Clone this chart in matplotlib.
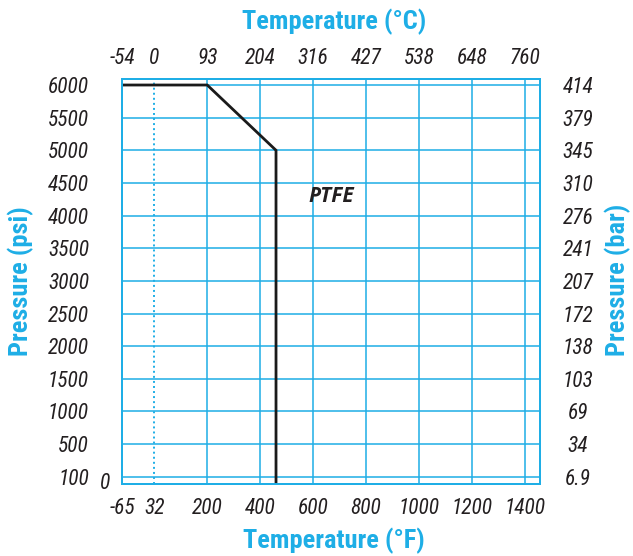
import numpy as np
import matplotlib
matplotlib.use("Agg")
import matplotlib.pyplot as plt
import matplotlib.transforms as mtransforms
from matplotlib import font_manager

# data
temp_f_ticks = [-65, 32, 200, 400, 600, 800, 1000, 1200, 1400]
temp_c_labels = ["-54", "0", "93", "204", "316", "427", "538", "648", "760"]
psi_ticks = [100, 500, 1000, 1500, 2000, 2500, 3000, 3500, 4000, 4500, 5000, 5500, 6000]
bar_labels = ["6.9", "34", "69", "103", "138", "172", "207", "241", "276", "310", "345", "379", "414"]

ptfe_temp_f = [-65, 200, 460, 460]
ptfe_psi = [6000, 6000, 5000, 0]

BLUE = "#1EAEE6"
TXT = "#231F20"

# pick a condensed face if one is installed
names = {f.name for f in font_manager.fontManager.ttflist}
NARROW = [n for n in ["Liberation Sans Narrow", "Roboto Condensed", "Roboto"] if n in names][:1]
NARROW = NARROW + ["DejaVu Sans"]

# the chart's axes are not linear: piecewise mapping
xf_pts = [-1000, -65, 32, 200, 3000]
xp_pts = [-6.426, -0.605, 0, 1, 15]
yf_pts = [-1000, 0, 100, 500, 10000]
yp_pts = [-2.354, -0.214, 0, 1, 20]

def fx(v):
    return np.interp(v, xf_pts, xp_pts)

def ifx(v):
    return np.interp(v, xp_pts, xf_pts)

def fy(v):
    return np.interp(v, yf_pts, yp_pts)

def ify(v):
    return np.interp(v, yp_pts, yf_pts)

fig = plt.figure(figsize=(6.33, 5.56), dpi=100)
ax = fig.add_axes([0.1932, 0.1300, 0.6604, 0.7279])
ax.set_xscale("function", functions=(fx, ifx))
ax.set_yscale("function", functions=(fy, ify))
ax.set_xlim(-65, 1459)
ax.set_ylim(0, 6092)

ax.plot(ptfe_temp_f, ptfe_psi, color="#1a1a1a", lw=2.0, zorder=3, solid_joinstyle="miter")

tick_kw = dict(fontsize=15.5, fontstyle="italic", family=NARROW, color=TXT)
ax.set_xticks(temp_f_ticks, [str(t) for t in temp_f_ticks], **tick_kw)
ax.set_yticks(psi_ticks, [str(p) for p in psi_ticks], **tick_kw)
ax.xaxis.set_minor_locator(matplotlib.ticker.NullLocator())
ax.yaxis.set_minor_locator(matplotlib.ticker.NullLocator())
ax.tick_params(axis="x", length=0, pad=10)
ax.tick_params(axis="y", length=0, pad=24)
ax.grid(True, color=BLUE, lw=1.1)
# 32 F line is dotted
g32 = ax.get_xgridlines()[1]
g32.set_linestyle((0, (1.0, 1.6)))
g32.set_linewidth(1.4)
for s in ax.spines.values():
    s.set_color(BLUE)
    s.set_linewidth(1.2)

# extra "0" at the bottom of the psi axis
trans = mtransforms.blended_transform_factory(ax.transAxes, ax.transData)
ax.text(-0.03, 0, "0", transform=trans, ha="right", va="center", **tick_kw)

ax.text(668, 4300, "PTFE", ha="center", va="center", fontsize=15,
        fontweight="bold", fontstyle="italic", family=["Open Sans", "DejaVu Sans"], color=TXT)

# top axis in Celsius
axt = ax.twiny()
axt.set_xscale("function", functions=(fx, ifx))
axt.set_xlim(ax.get_xlim())
axt.set_xticks(temp_f_ticks, temp_c_labels, **tick_kw)
axt.xaxis.set_minor_locator(matplotlib.ticker.NullLocator())
axt.tick_params(axis="x", length=0, pad=7)

# right axis in bar
axr = ax.twinx()
axr.set_yscale("function", functions=(fy, ify))
axr.set_ylim(ax.get_ylim())
axr.set_yticks(psi_ticks, bar_labels, **tick_kw)
axr.yaxis.set_minor_locator(matplotlib.ticker.NullLocator())
axr.tick_params(axis="y", length=0, pad=27)
for lbl in axr.get_yticklabels():
    lbl.set_horizontalalignment("center")
for a in (axt, axr):
    for s in a.spines.values():
        s.set_color(BLUE)
        s.set_linewidth(1.2)

title_kw = dict(fontsize=19, fontweight="bold", family=NARROW, color=BLUE)
fig.text(334 / 633, 1 - 22 / 556, "Temperature (°C)", ha="center", va="center", **title_kw)
fig.text(334 / 633, 1 - 541 / 556, "Temperature (°F)", ha="center", va="center", **title_kw)
fig.text(21 / 633, 1 - 281 / 556, "Pressure (psi)", ha="center", va="center", rotation=90, **title_kw)
fig.text(618 / 633, 1 - 280 / 556, "Pressure (bar)", ha="center", va="center", rotation=90, **title_kw)

fig.savefig("out.png", dpi=100)
